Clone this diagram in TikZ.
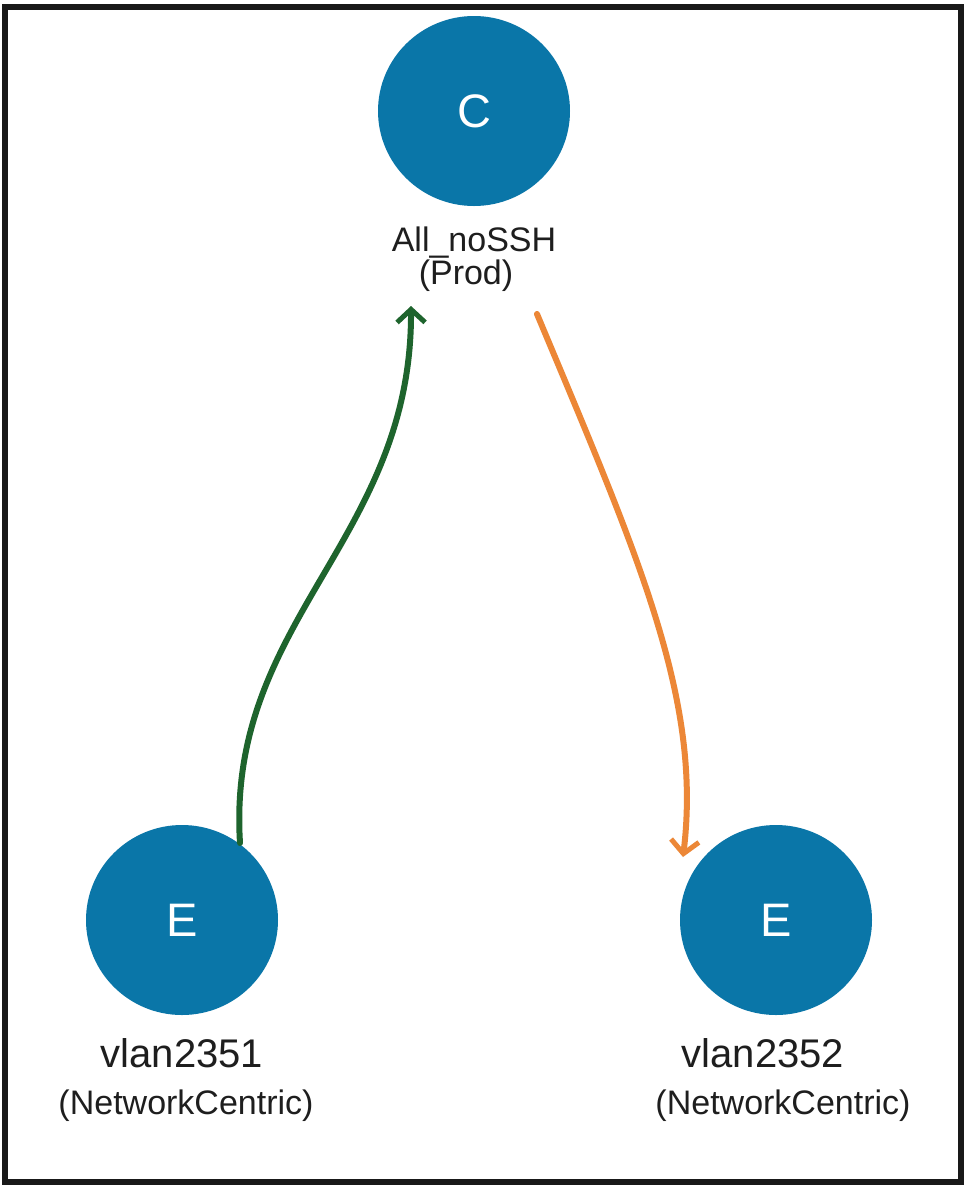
\documentclass[tikz,border=0pt]{standalone}
\usepackage{fontspec}
\setmainfont{Liberation Sans}
\usetikzlibrary{arrows.meta,shapes.geometric}
\definecolor{nodeblue}{RGB}{10,118,168}
\definecolor{arrgreen}{RGB}{30,100,45}
\definecolor{arrorange}{RGB}{236,135,55}
\definecolor{txtgray}{RGB}{30,30,30}
\tikzset{
  epg/.style={ellipse, fill=nodeblue, minimum width=192pt, minimum height=190pt, inner sep=0pt, text=white, font=\fontsize{47}{47}\selectfont},
  lbl/.style={text=txtgray, inner sep=0pt, anchor=base},
  smalllbl/.style={lbl, font=\fontsize{34}{34}\selectfont},
  biglbl/.style={lbl, font=\fontsize{40}{40}\selectfont},
  link/.style={line width=6pt, line cap=round},
  barb/.style={-{Straight Barb[length=13pt,width=28pt,line width=5pt]}},
}
\begin{document}
\begin{tikzpicture}[x=1pt,y=-1pt]
\useasboundingbox (0,0) rectangle (965,1187);
\fill[white] (0,0) rectangle (965,1187);
\draw[line width=6pt, black!90] (5,7) rectangle (961,1182);
\node[epg] (c) at (474,111) {C};
\node[epg] (e1) at (182,920) {E};
\node[epg] (e2) at (776,920) {E};
\node[smalllbl] (t1) at (474,251) {All\_noSSH};
\node[smalllbl] (t2) at (466,284) {(Prod)};
\node[biglbl] (t3) at (182,1067) {vlan2351};
\node[smalllbl] (t4) at (186,1114) {(NetworkCentric)};
\node[biglbl] (t5) at (763,1067) {vlan2352};
\node[smalllbl] (t6) at (783,1114) {(NetworkCentric)};
\coordinate (gs) at (240,843);
\coordinate (ge) at (411,306);
\coordinate (os) at (537,314);
\coordinate (oe) at (683,857);
\draw[link, arrgreen, barb]
  (gs) .. controls (226,620) and (412,540) .. (ge);
\draw[link, arrorange, barb]
  (os) .. controls (640,560) and (702,700) .. (oe);
\end{tikzpicture}
\end{document}
